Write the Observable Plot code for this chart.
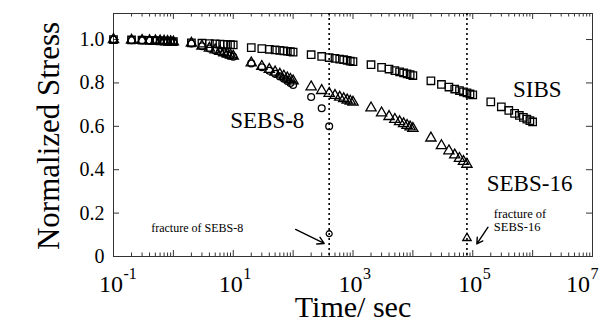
<!DOCTYPE html>
<html><head><meta charset="utf-8">
<script src="https://cdn.jsdelivr.net/npm/d3@7"></script>
<script src="https://cdn.jsdelivr.net/npm/@observablehq/plot@0.6"></script>
<style>body{margin:0;background:#fff} svg{font-family:"Liberation Serif",serif}</style>
</head><body><div id="chart"></div>
<script>
// ---- data ----
const sibsTime = [0.1,
  0.2,0.3,0.4,0.5,0.6,0.7,0.8,0.9,1,
  2,3,4,5,6,7,8,9,10,
  20,30,40,50,60,70,80,90,100,
  200,300,400,500,600,700,800,900,1000,
  2000,3000,4000,5000,6000,7000,8000,9000,10000,
  2e4,3e4,4e4,5e4,6e4,7e4,8e4,9e4,1e5,
  2e5,3e5,4e5,5e5,6e5,7e5,8e5,9e5,1e6];
const sibsStress = [1.000,
  0.998,0.997,0.996,0.995,0.994,0.993,0.992,0.991,0.990,
  0.985,0.983,0.981,0.980,0.979,0.978,0.977,0.976,0.975,
  0.963,0.958,0.955,0.952,0.950,0.948,0.946,0.944,0.942,
  0.930,0.922,0.917,0.913,0.910,0.907,0.904,0.901,0.898,
  0.884,0.872,0.864,0.857,0.851,0.846,0.842,0.838,0.834,
  0.810,0.793,0.781,0.772,0.765,0.759,0.754,0.749,0.745,
  0.713,0.690,0.673,0.660,0.650,0.641,0.633,0.626,0.620];

const sebs16Time = [0.1,
  0.2,0.3,0.4,0.5,0.6,0.7,0.8,0.9,1,
  2,3,4,5,6,7,8,9,10,
  20,30,40,50,60,70,80,90,100,
  200,300,400,500,600,700,800,900,1000,
  2000,3000,4000,5000,6000,7000,8000,9000,10000,
  2e4,3e4,4e4,5e4,6e4,7e4,8e4];
const sebs16Stress = [1.000,
  0.997,0.996,0.995,0.994,0.993,0.992,0.991,0.990,0.989,
  0.983,0.970,0.960,0.952,0.945,0.939,0.933,0.928,0.923,
  0.892,0.876,0.862,0.850,0.840,0.831,0.823,0.816,0.809,
  0.782,0.765,0.752,0.742,0.734,0.727,0.721,0.716,0.711,
  0.685,0.662,0.645,0.632,0.621,0.612,0.604,0.597,0.590,
  0.546,0.511,0.487,0.468,0.452,0.438,0.425];

const sebs8Time = [0.1,
  0.2,0.3,0.4,0.5,0.6,0.7,0.8,0.9,1,
  2,3,4,5,6,7,8,9,10,
  20,30,40,50,60,70,80,90,100,
  200,300,400];
const sebs8Stress = [1.000,
  0.997,0.996,0.995,0.994,0.993,0.992,0.991,0.990,0.989,
  0.982,0.969,0.959,0.950,0.943,0.937,0.931,0.926,0.921,
  0.890,0.872,0.856,0.842,0.830,0.819,0.809,0.800,0.791,
  0.735,0.683,0.600];

// fracture points
const fractureSeries = ["SEBS-8", "SEBS-16"];
const fractureTime = [400, 8e4];
const fractureStress = [0.105, 0.085];

// axis tick labels
const yTicks = [0, 0.2, 0.4, 0.6, 0.8, 1.0];
const xLabelExponents = [-1, 1, 3, 5, 7];
const xDecades = [-1, 0, 1, 2, 3, 4, 5, 6, 7];

// annotations (data coordinates)
const labelText = ["SEBS-8", "SIBS", "SEBS-16"];
const labelTime = [37, 1.2e6, 8.9e5];
const labelStress = [0.59, 0.733, 0.304];
const note8Text = "fracture of SEBS-8";
const note8Time = 2.5, note8Stress = 0.111;
const note16Text = "fracture of\nSEBS-16";
const note16Time = 2.25e5, note16Stress = 0.118;
const arrowFrom = [[110, 0.125], [1.8e5, 0.135]];
const arrowTo = [[330, 0.06], [1.17e5, 0.058]];

// ---- build ----
const zip = (t, v) => t.map((d, i) => ({t: d, v: v[i]}));
const sibs = zip(sibsTime, sibsStress);
const sebs16 = zip(sebs16Time, sebs16Stress);
const sebs8 = zip(sebs8Time, sebs8Stress);
const fracture = fractureSeries.map((s, i) => ({s, t: fractureTime[i], v: fractureStress[i]}));
const labels = labelText.map((s, i) => ({s, t: labelTime[i], v: labelStress[i]}));
const arrows = arrowFrom.map((f, i) => ({x1: f[0], y1: f[1], x2: arrowTo[i][0], y2: arrowTo[i][1]}));

const W = 608, H = 322, mL = 113, mR = 16, mT = 13, mB = 66;
const yMax = 1.12;
const pxPerUnit = (H - mT - mB) / yMax;
const pxPerDecade = (W - mL - mR) / 8;
const majorLen = 6, minorLen = 3.5;

const majorX = xDecades.map(k => 10 ** k);
const minorX = [];
for (const k of xDecades.slice(0, -1)) for (let m = 2; m <= 9; m++) minorX.push(m * 10 ** k);

const inX = d => 10 ** (d / pxPerDecade);
// keep the last tick label inside the picture (as in the reference)
const labelX = d => Math.min(10 ** d, 1e7 / inX(12));

const chart = Plot.plot({
  width: W, height: H,
  marginLeft: mL, marginRight: mR, marginTop: mT, marginBottom: mB,
  style: {fontFamily: "'Liberation Serif', serif", background: "white", color: "black", overflow: "visible"},
  x: {type: "log", domain: [0.1, 1e7], axis: null},
  y: {domain: [0, yMax], axis: null},
  marks: [
    // x ticks (bottom & top, inward)
    Plot.ruleX(majorX, {x: d => d, y1: 0, y2: majorLen / pxPerUnit, stroke: "#333"}),
    Plot.ruleX(minorX, {x: d => d, y1: 0, y2: minorLen / pxPerUnit, stroke: "#333"}),
    Plot.ruleX(majorX, {x: d => d, y1: yMax, y2: yMax - majorLen / pxPerUnit, stroke: "#333"}),
    Plot.ruleX(minorX, {x: d => d, y1: yMax, y2: yMax - minorLen / pxPerUnit, stroke: "#333"}),
    // y ticks (left & right, inward)
    Plot.ruleY(yTicks, {y: d => d, x1: 0.1, x2: 0.1 * inX(majorLen), stroke: "#333"}),
    Plot.ruleY(yTicks, {y: d => d, x1: 1e7, x2: 1e7 / inX(majorLen), stroke: "#333"}),
    Plot.frame({stroke: "#333", strokeWidth: 1}),
    Plot.axisY({ticks: yTicks, tickSize: 0, tickPadding: 9, fontSize: 20, label: null,
      tickFormat: d => d === 0 ? "0" : d.toFixed(1)}),
    // x tick labels 10^n
    Plot.text(xLabelExponents, {x: labelX, y: 0, text: () => "10", textAnchor: "end",
      lineAnchor: "bottom", dx: 9.5, dy: 35, fontSize: 24}),
    Plot.text(xLabelExponents, {x: labelX, y: 0, text: d => String(d), textAnchor: "start",
      lineAnchor: "bottom", dx: 10, dy: 22, fontSize: 16}),
    // axis titles
    Plot.text(["Time/ sec"], {frameAnchor: "bottom", text: d => d, lineAnchor: "bottom", textAnchor: "middle",
      dy: 60, fontSize: 30}),
    Plot.text(["Normalized Stress"], {frameAnchor: "left", text: d => d, rotate: -90, lineAnchor: "bottom",
      textAnchor: "middle", dx: -55, dy: 1, fontSize: 31}),
    // fracture dotted lines
    Plot.ruleX(fractureTime, {x: d => d, stroke: "black", strokeWidth: 1.6, strokeDasharray: "2,3"}),
    // data
    Plot.dot(sibs, {x: "t", y: "v", symbol: "square", r: 4.2, stroke: "black", fill: "none", strokeWidth: 1.3}),
    Plot.dot(sebs16, {x: "t", y: "v", symbol: "triangle", r: 3.8, stroke: "black", fill: "none", strokeWidth: 1.3}),
    Plot.dot(sebs8, {x: "t", y: "v", symbol: "circle", r: 3.4, stroke: "black", fill: "none", strokeWidth: 1.3}),
    Plot.dot(fracture, {x: "t", y: "v", symbol: d => d.s === "SEBS-8" ? "circle" : "triangle",
      r: d => d.s === "SEBS-8" ? 3.4 : 3.8, stroke: "black", fill: "none", strokeWidth: 1.3}),
    // annotations
    Plot.text(labels, {x: "t", y: "v", text: "s", lineAnchor: "bottom", textAnchor: "middle", fontSize: 23, fill: "black"}),
    Plot.text([note8Text], {x: () => note8Time, y: () => note8Stress, text: d => d, lineAnchor: "bottom",
      textAnchor: "middle", fontSize: 12, fill: "black"}),
    Plot.text([note16Text], {x: () => note16Time, y: () => note16Stress, text: d => d, lineAnchor: "bottom",
      textAnchor: "start", fontSize: 12.5, lineHeight: 1.05, fill: "black"}),
    Plot.arrow(arrows, {x1: "x1", y1: "y1", x2: "x2", y2: "y2", stroke: "black", strokeWidth: 1.4, headLength: 8})
  ]
});
document.getElementById("chart").appendChild(chart);
</script>
</body></html>
